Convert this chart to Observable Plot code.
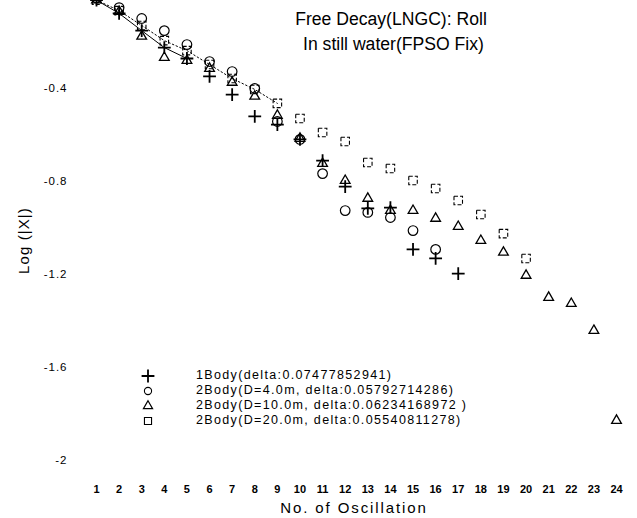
<!DOCTYPE html>
<html><head><meta charset="utf-8">
<script src="https://cdn.jsdelivr.net/npm/d3@7"></script>
<script src="https://cdn.jsdelivr.net/npm/@observablehq/plot@0.6"></script>
<style>
body{margin:0;background:#fff;}
#wrap{position:relative;width:637px;height:518px;font-family:"Liberation Sans",Arial,sans-serif;color:#000;}
#legend{position:absolute;left:0;top:0;font-size:12.5px;letter-spacing:1.35px;}
.lrow{position:absolute;height:16px;}
.lrow svg{position:absolute;left:140px;top:0;}
.lrow span{position:absolute;left:196px;top:0px;white-space:nowrap;}
svg [aria-label="x-axis label"], svg [aria-label="x-axis label"] text{font-size:15px !important;font-weight:normal !important;letter-spacing:1.9px;}
svg [aria-label="y-axis label"], svg [aria-label="y-axis label"] text{font-size:15px !important;font-weight:normal !important;letter-spacing:1.1px;}
svg [aria-label="y-axis tick label"] text{letter-spacing:1px;}
</style></head>
<body><div id="wrap"><div id="legend"></div></div>
<script>
// ---- data ----
const oscillation = [1,2,3,4,5,6,7,8,9,10,11,12,13,14,15,16,17,18,19,20,21,22,23,24];
const body1   = [-0.02,-0.077,-0.151,-0.224,-0.271,-0.348,-0.426,-0.52,-0.555,-0.619,-0.71,-0.822,-0.916,-0.912,-1.092,-1.131,-1.196];
const body2D4 = [-0.01,-0.052,-0.099,-0.151,-0.211,-0.284,-0.327,-0.40,-0.542,-0.619,-0.766,-0.925,-0.933,-0.955,-1.011,-1.092];
const body2D10= [-0.02,-0.069,-0.176,-0.267,-0.28,-0.314,-0.374,-0.434,-0.516,-0.615,-0.723,-0.796,-0.873,-0.925,-0.925,-0.959,-0.994,-1.054,-1.105,-1.204,-1.299,-1.325,-1.441,-1.828];
const body2D20= [-0.02,-0.065,-0.129,-0.194,-0.237,-0.297,-0.357,-0.404,-0.464,-0.529,-0.589,-0.628,-0.718,-0.744,-0.796,-0.83,-0.882,-0.942,-1.024,-1.131];
const seriesNames = [
  "1Body(delta:0.07477852941)",
  "2Body(D=4.0m, delta:0.05792714286)",
  "2Body(D=10.0m, delta:0.06234168972 )",
  "2Body(D=20.0m, delta:0.05540811278)"
];
const seriesSymbols = ["plus","circle","triangle","square"];
const yTicks = [-2,-1.6,-1.2,-0.8,-0.4];
const xTicks = oscillation;
const titleLines = ["Free Decay(LNGC): Roll"," In still water(FPSO Fix)"];
const xLabel = "No. of Oscillation";
const yLabel = "Log (|X|)";

const allSeries = [body1, body2D4, body2D10, body2D20];
const tables = allSeries.map((vals, s) => vals.map((v, i) => ({x: oscillation[i], y: v, s})));

const font = "Liberation Sans, Arial, sans-serif";
const symStyle = [
  {r: 4.2, strokeWidth: 1.8},
  {r: 4.8, strokeWidth: 1.2},
  {r: 3.6, strokeWidth: 1.3},
  {r: 4.8, strokeWidth: 1.1, strokeDasharray: "4,2"}
];
const legStyle = [
  {r: 4.2, strokeWidth: 1.8},
  {r: 3.6, strokeWidth: 1.1},
  {r: 3.4, strokeWidth: 1.2},
  {r: 4.0, strokeWidth: 1.1}
];

const chart = Plot.plot({
  width: 637, height: 518,
  marginLeft: 70, marginRight: 0, marginTop: 0, marginBottom: 38,
  style: {fontFamily: font, background: "#fff", color: "#000"},
  x: {domain: [1, 24], range: [96, 616]},
  y: {domain: [-2, 0], range: [460, -5]},
  marks: [
    Plot.axisY({ticks: yTicks, tickSize: 0, tickPadding: 3, fontSize: 11.5, tickFormat: d => String(d),
      label: yLabel, labelAnchor: "center", labelOffset: 52, labelArrow: false, anchor: "left"}),
    Plot.axisX({ticks: xTicks, tickSize: 0, tickPadding: 5, fontSize: 11, fontWeight: "bold", tickFormat: d => String(d),
      label: xLabel, labelAnchor: "center", labelOffset: 32, labelArrow: false, anchor: "bottom"}),
    Plot.line(tables[0].slice(0, 5), {x: "x", y: "y", stroke: "#000", strokeWidth: 1}),
    Plot.line(tables[3].slice(0, 9), {x: "x", y: "y", stroke: "#000", strokeWidth: 1, strokeDasharray: "1.5,2.5"}),
    ...tables.map((t, s) => Plot.dot(t, {x: "x", y: "y", symbol: () => seriesSymbols[s], fill: "none", stroke: "#000", ...symStyle[s]})),
    Plot.text([titleLines.join("\n")], {frameAnchor: "top", dx: 37, dy: 7, lineAnchor: "top", fontSize: 17.6, lineHeight: 1.4, fill: "#000", textAnchor: "middle"})
  ]
});
d3.select(chart).selectAll("text, tspan").each(function() {
  if (this.childNodes.length === 1 && this.firstChild.nodeType === 3) {
    const t = this.textContent;
    const c = t.replace(/\s*[→↑↓←]\s*/g, "");
    if (c !== t) this.textContent = c;
  }
});
document.getElementById("wrap").prepend(chart);

// legend
const leg = document.getElementById("legend");
seriesNames.forEach((name, i) => {
  const row = document.createElement("div");
  row.className = "lrow";
  row.style.top = (368 + i * 15) + "px";
  row.style.left = "0px";
  const svg = d3.create("svg").attr("width", 16).attr("height", 16);
  const sym = {plus: d3.symbolPlus, circle: d3.symbolCircle, triangle: d3.symbolTriangle, square: d3.symbolSquare}[seriesSymbols[i]];
  const st = legStyle[i];
  svg.append("path").attr("transform", "translate(8,8)")
    .attr("d", d3.symbol(sym, Math.PI * st.r * st.r)())
    .attr("fill", "none").attr("stroke", "#000").attr("stroke-width", st.strokeWidth);
  row.appendChild(svg.node());
  const sp = document.createElement("span");
  sp.textContent = name;
  row.appendChild(sp);
  leg.appendChild(row);
});
</script>
</body></html>
